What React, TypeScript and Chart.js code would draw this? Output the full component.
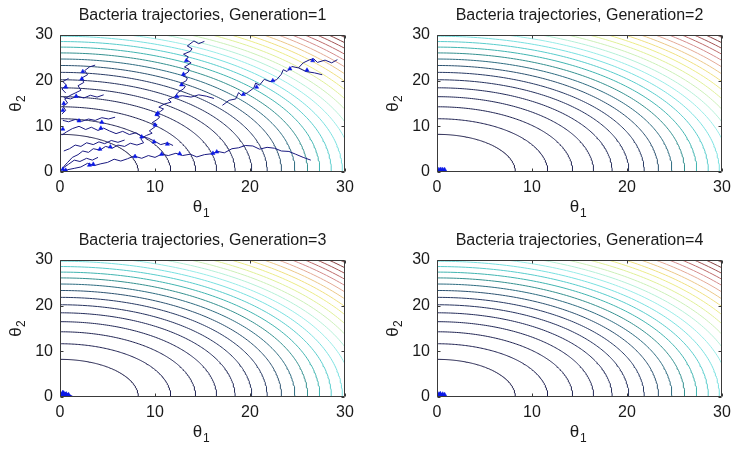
import React, { useEffect, useRef } from 'react';
import { Chart, registerables } from 'chart.js';

Chart.register(...registerables);

const FONT = "'Liberation Sans', Arial, Helvetica, sans-serif";

// ---- axes ----
const axisMin = 0;
const axisMax = 30;
const tickStep = 10;
const tickValues = [0, 10, 20, 30];
const generations = [1, 2, 3, 4];

// ---- contour levels of J(θ1, θ2) = θ1² + θ2² ----
const contourLevels = [68, 136, 204, 272, 340, 408, 476, 544, 612, 680, 748, 816, 884, 952, 1020, 1088, 1156, 1224, 1292, 1360, 1428, 1496, 1564, 1632, 1700, 1768];
const contourColors = [
  '#1c1c48', '#1e2050', '#202452', '#222856', '#242c5a', '#26325e', '#283a64',
  '#2c5270', '#2e6c80', '#34908f', '#40b4b0', '#58cccc', '#78e0e0', '#98ece8',
  '#b4f0d8', '#ccf0b8', '#e0f098', '#ecec88', '#f0e080', '#ecc888', '#e4aa96',
  '#d48c8c', '#be6c6c', '#a45454', '#884040', '#6c3030'
];

// ---- generation 1 trajectories (θ1, θ2) ----
const gen1Trajectories: number[][][] = [
  [[15.2,28.6],[14.6,28.1],[14.1,28.7],[13.4,27.6],[13.9,27.0],[13.7,26.4],[13.0,25.8],[13.5,25.2],[13.3,24.6],[13.8,23.9],[13.1,23.0],[13.6,22.5],[13.5,21.9],[12.9,21.1],[13.4,20.6],[13.3,20.0],[12.7,19.3],[13.2,18.8],[13.0,18.2],[12.4,17.4],[12.1,16.5],[11.4,15.9],[11.7,15.3],[11.0,14.9],[10.4,14.2],[10.9,13.8],[10.6,13.3],[10.0,12.6],[10.5,12.1],[10.3,11.6],[9.7,10.8],[10.2,10.4],[10.0,9.9],[9.4,9.0],[9.7,8.5],[9.1,8.0],[8.5,7.3],[8.8,6.4],[8.1,5.9],[7.4,6.3],[6.8,5.6],[6.1,5.9],[5.5,5.2],[4.8,5.6],[4.2,4.8],[3.5,5.1],[3.0,4.3],[2.4,4.6],[1.9,3.8],[1.3,3.2],[0.8,2.1],[0.4,1.2],[0.2,0.5]],
  [[12.1,16.5],[12.9,16.7],[13.8,16.4],[14.6,16.9],[15.4,16.6],[16.2,16.1]],
  [[29.2,24.6],[28.6,23.9],[27.9,24.5],[27.1,24.0],[26.7,24.8],[26.3,24.6],[25.6,23.9],[25.1,22.8],[24.4,23.1],[23.9,22.0],[23.5,22.4],[23.3,21.4],[22.8,20.2],[22.1,19.8],[21.5,20.3],[21.0,19.0],[20.6,19.5],[20.4,18.4],[19.7,17.3],[19.1,16.8],[18.8,17.4],[18.5,16.0],[17.8,15.7],[17.1,14.6]],
  [[25.1,22.8],[25.9,22.0],[26.8,21.7],[27.6,21.3]],
  [[26.4,2.6],[25.6,3.2],[24.8,3.9],[24.1,4.5],[23.3,4.6],[22.6,5.2],[21.8,5.4],[21.0,5.0],[20.3,5.7],[19.5,5.8],[18.8,5.3],[18.1,5.1],[17.3,4.2],[16.6,4.5],[16.0,4.0],[15.2,3.8],[14.4,3.3],[13.7,3.9],[12.9,3.6],[12.2,4.1],[11.4,3.6],[10.7,3.9],[10.0,3.2],[9.3,3.6],[8.6,3.0],[7.8,3.5],[7.1,2.9],[6.4,2.4],[5.7,2.8],[5.0,2.1],[4.3,1.8],[3.6,1.4],[2.9,1.9],[2.2,1.1],[1.5,0.8],[0.8,0.5],[0.3,0.3]],
  [[11.9,5.8],[11.3,6.4],[10.6,6.0],[10.0,6.7],[9.3,7.4],[8.6,7.8],[8.0,8.6],[7.3,8.2],[6.6,8.9],[5.9,8.4],[5.2,9.0],[4.6,9.6],[4.0,9.1],[3.3,9.8],[2.7,9.3],[2.0,10.0],[1.3,9.5],[0.7,8.8],[0.2,8.1]],
  [[3.7,23.4],[3.1,23.0],[2.6,22.2],[2.9,21.3],[2.3,20.6],[2.5,19.6],[1.9,18.9],[2.2,17.9],[1.6,17.3],[1.0,16.7],[0.5,16.0],[0.8,15.1],[0.3,14.4],[0.6,13.5],[0.2,12.7]],
  [[0.9,20.5],[0.3,19.8],[0.7,19.0],[0.2,18.2],[0.6,17.3]],
  [[4.6,16.9],[3.9,16.4],[3.2,16.8],[2.5,16.2],[1.8,16.6],[1.1,16.0],[0.4,16.3]],
  [[5.8,12.0],[5.1,11.6],[4.4,11.9],[3.7,11.3],[3.0,11.6],[2.3,11.1],[1.6,11.5],[0.9,11.0],[0.3,11.3]],
  [[6.8,7.0],[6.1,6.5],[5.4,6.9],[4.7,6.2],[4.1,6.6],[3.5,6.0],[2.8,6.4],[2.2,5.6],[1.6,5.9],[1.0,5.1],[0.4,4.6]],
  [[4.0,3.2],[3.4,2.6],[2.8,3.0],[2.1,2.3],[1.5,2.6],[0.9,1.7],[0.4,1.0],[0.1,0.3]]
];
const gen1Markers: number[][] = [
  [13.3,24.4],[13.0,21.4],[12.8,19.1],[12.3,16.5],[10.3,12.9],[10.2,12.6],[10.0,10.3],[9.9,6.6],[11.3,6.1],[8.6,7.7],
  [26.6,24.4],[24.2,22.6],[22.4,20.0],[20.7,18.6],[19.3,17.0],[26.0,22.3],
  [16.5,4.4],[16.1,4.1],[12.6,4.0],[10.7,3.9],[7.9,3.4],[3.5,1.7],[3.1,1.5],
  [2.4,22.0],[2.3,20.4],[0.6,18.6],[0.4,15.0],[2.0,11.2],[4.4,10.9],[4.3,9.6],[5.3,5.5],[4.2,5.0],
  [0.3,0.6],[0.6,0.4],[0.3,9.4],[1.7,16.6],[0.3,13.5]
];

// ---- later generations: all bacteria near the optimum ----
const gen2Trajectories: number[][][] = [[[0.1,0.3],[0.3,0.45],[0.55,0.35],[0.8,0.4]]];
const gen2Markers: number[][] = [[0.2,0.4],[0.4,0.45],[0.6,0.4],[0.8,0.4]];
const gen3Trajectories: number[][][] = [[[0.1,0.3],[0.35,0.7],[0.6,0.5],[0.9,0.35],[0.5,0.8]]];
const gen3Markers: number[][] = [[0.2,0.5],[0.4,0.7],[0.65,0.55],[0.9,0.4],[0.3,0.85]];
const gen4Trajectories: number[][][] = [[[0.1,0.3],[0.3,0.6],[0.55,0.45],[0.8,0.35]]];
const gen4Markers: number[][] = [[0.2,0.5],[0.35,0.6],[0.6,0.5],[0.8,0.4]];

const trajectoriesByGen = [gen1Trajectories, gen2Trajectories, gen3Trajectories, gen4Trajectories];
const markersByGen = [gen1Markers, gen2Markers, gen3Markers, gen4Markers];

function toXY(pts: number[][]) {
  return pts.map(([x, y]) => ({ x, y }));
}

function contourPoints(level: number) {
  const r = Math.sqrt(level);
  const pts: { x: number; y: number }[] = [];
  const n = 120;
  for (let i = 0; i <= n; i++) {
    const t = (Math.PI / 2) * (i / n);
    pts.push({ x: r * Math.cos(t), y: r * Math.sin(t) });
  }
  return pts;
}

const framePlugin = {
  id: 'matlabFrame',
  afterDatasetsDraw(chart: any) {
    const { ctx, chartArea } = chart;
    const xs = chart.scales.x;
    const ys = chart.scales.y;
    const l = Math.round(chartArea.left) + 0.5;
    const r = Math.round(chartArea.right) - 0.5;
    const t = Math.round(chartArea.top) + 0.5;
    const b = Math.round(chartArea.bottom) - 0.5;
    ctx.save();
    ctx.strokeStyle = '#3a3a3a';
    ctx.lineWidth = 1;
    ctx.beginPath();
    ctx.rect(l, t, r - l, b - t);
    ctx.stroke();
    const len = 3;
    ctx.beginPath();
    tickValues.forEach((v) => {
      const px = Math.round(xs.getPixelForValue(v)) + 0.5;
      ctx.moveTo(px, b); ctx.lineTo(px, b - len);
      ctx.moveTo(px, t); ctx.lineTo(px, t + len);
      const py = Math.round(ys.getPixelForValue(v)) + 0.5;
      ctx.moveTo(l, py); ctx.lineTo(l + len, py);
      ctx.moveTo(r, py); ctx.lineTo(r - len, py);
    });
    ctx.stroke();
    ctx.restore();
  },
  afterDraw(chart: any) {
    const { ctx, chartArea } = chart;
    const cx = (chartArea.left + chartArea.right) / 2;
    const cy = (chartArea.top + chartArea.bottom) / 2;
    ctx.save();
    ctx.fillStyle = '#1a1a1a';
    // x label θ1
    ctx.font = `17px ${FONT}`;
    ctx.textAlign = 'center';
    ctx.textBaseline = 'alphabetic';
    ctx.fillText('θ', cx - 5, chartArea.bottom + 40);
    ctx.font = `12px ${FONT}`;
    ctx.textAlign = 'left';
    ctx.fillText('1', cx + 0.5, chartArea.bottom + 45);
    // y label θ2
    ctx.translate(0, cy);
    ctx.rotate(-Math.PI / 2);
    ctx.font = `17px ${FONT}`;
    ctx.textAlign = 'center';
    ctx.fillText('θ', -3.5, 21);
    ctx.font = `12px ${FONT}`;
    ctx.textAlign = 'left';
    ctx.fillText('2', 1.5, 25);
    ctx.restore();
  }
};

function Subplot({ gen, left, top }: { gen: number; left: number; top: number }) {
  const ref = useRef<HTMLCanvasElement | null>(null);
  useEffect(() => {
    if (!ref.current) return;
    const idx = gen - 1;
    const isCluster = gen > 1;
    const datasets: any[] = [];
    contourLevels.forEach((lv, i) => {
      datasets.push({
        data: contourPoints(lv),
        showLine: true,
        borderColor: contourColors[i],
        borderWidth: 1,
        pointRadius: 0,
        tension: 0,
        order: 3
      });
    });
    trajectoriesByGen[idx].forEach((tr) => {
      datasets.push({
        data: toXY(tr),
        showLine: true,
        borderColor: isCluster ? '#1010c0' : '#1a1a80',
        borderWidth: isCluster ? 3 : 1,
        pointRadius: 0,
        tension: 0,
        order: 2
      });
    });
    datasets.push({
      data: toXY(markersByGen[idx]),
      showLine: false,
      pointStyle: 'triangle',
      pointRadius: isCluster ? 3 : 2.4,
      backgroundColor: '#0a18e6',
      borderColor: '#0a18e6',
      borderWidth: 0.5,
      order: 1
    });
    const tickFont = { family: FONT, size: 16 };
    const chart = new Chart(ref.current, {
      type: 'scatter',
      data: { datasets },
      options: {
        animation: false,
        responsive: false,
        events: [],
        layout: { padding: { top: 0, left: 0, right: 20, bottom: 0 } },
        plugins: {
          legend: { display: false },
          tooltip: { enabled: false },
          title: {
            display: true,
            text: `Bacteria trajectories, Generation=${gen}`,
            fullSize: false,
            font: { family: FONT, size: 16, weight: 'normal' },
            color: '#1a1a1a',
            padding: { top: 6, bottom: 9.8 }
          }
        },
        scales: {
          x: {
            type: 'linear',
            min: axisMin,
            max: axisMax,
            ticks: { stepSize: tickStep, padding: 6, font: tickFont, color: '#1a1a1a', maxRotation: 0, autoSkip: false },
            grid: { display: false, drawTicks: false },
            border: { display: false },
            afterFit: (s: any) => { s.height = 53; }
          },
          y: {
            type: 'linear',
            min: axisMin,
            max: axisMax,
            ticks: { stepSize: tickStep, padding: 7, font: tickFont, color: '#1a1a1a', autoSkip: false },
            grid: { display: false, drawTicks: false },
            border: { display: false },
            afterFit: (s: any) => { s.width = 60; }
          }
        }
      } as any,
      plugins: [framePlugin]
    });
    return () => chart.destroy();
  }, [gen]);
  return (
    <canvas
      ref={ref}
      width={365}
      height={225}
      style={{ position: 'absolute', left, top, width: 365, height: 225, display: 'block' }}
    />
  );
}

export default function App() {
  const positions = [
    { left: 0, top: 0 },
    { left: 377, top: 0 },
    { left: 0, top: 225 },
    { left: 377, top: 225 }
  ];
  return (
    <div style={{ position: 'fixed', left: 0, top: 0, width: 731, height: 450, overflow: 'hidden', background: '#ffffff' }}>
      {generations.map((g, i) => (
        <Subplot key={g} gen={g} left={positions[i].left} top={positions[i].top} />
      ))}
    </div>
  );
}
